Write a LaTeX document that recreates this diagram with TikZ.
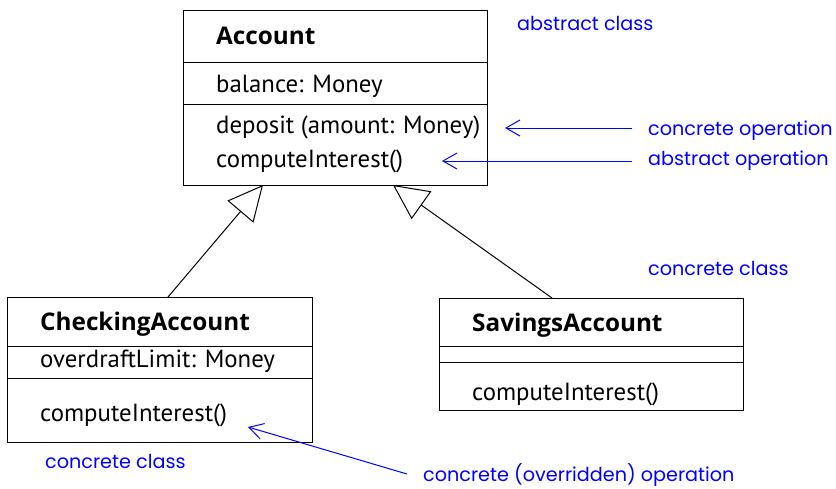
\documentclass[tikz,border=0pt]{standalone}
\usepackage{fontspec}
\setmainfont{PT Sans}
\newfontfamily\titlefont{Open Sans}
\newfontfamily\bluefont{Poppins}
\usetikzlibrary{arrows.meta}
\tikzset{
  classbox/.style={draw=black, line width=1pt, rectangle, inner sep=0pt, anchor=north west},
  divider/.style={draw=black, line width=1pt},
  txt/.style={anchor=base west, inner sep=0pt, font=\fontsize{24.8}{28}\selectfont},
  ttl/.style={anchor=base west, inner sep=0pt, font=\fontsize{24.3}{28}\selectfont\titlefont\bfseries},
  note/.style={anchor=base west, inner sep=0pt, text=blue, font=\fontsize{19.2}{22}\selectfont\bluefont},
  gen/.style={draw=black, line width=1pt, -{Triangle[open, length=35pt, width=34pt, line width=1pt]}},
  pointer/.style={draw=blue, line width=1pt, -{Straight Barb[length=14pt, width=16pt, line width=1pt]}}
}
\begin{document}
\begin{tikzpicture}[x=1pt, y=-1pt]
\useasboundingbox (0,0) rectangle (836,488);
% Account
\node[classbox, minimum width=304pt, minimum height=175pt] (acc) at (183,10) {};
\draw[divider] (183,62) -- (487,62);
\draw[divider] (183,104) -- (487,104);
\node[ttl] (accName) at (216,44) {Account};
\node[txt] (accAttr) at (216,92) {balance: Money};
\node[txt] (accOp1) at (216,133) {deposit (amount: Money)};
\node[txt] (accOp2) at (216,167) {computeInterest()};
% CheckingAccount
\node[classbox, minimum width=305pt, minimum height=145pt] (chk) at (7,297) {};
\draw[divider] (7,346) -- (312,346);
\draw[divider] (7,378) -- (312,378);
\node[ttl] (chkName) at (40,330) {CheckingAccount};
\node[txt] (chkAttr) at (40,367) {overdraftLimit: Money};
\node[txt] (chkOp) at (40,421) {computeInterest()};
% SavingsAccount
\node[classbox, minimum width=304pt, minimum height=112pt] (sav) at (439,298) {};
\draw[divider] (439,346) -- (743,346);
\draw[divider] (439,362) -- (743,362);
\node[ttl] (savName) at (472,331) {SavingsAccount};
\node[txt] (savOp) at (472,400) {computeInterest()};
% generalizations
\coordinate (chkTop) at (168,297);
\coordinate (tip1) at (263,185);
\coordinate (savTop) at (552,298);
\coordinate (tip2) at (393,185);
\draw[gen] (chkTop) -- (tip1);
\draw[gen] (savTop) -- (tip2);
% notes
\node[note] (nAbsClass) at (517,30) {abstract class};
\node[note] (nConcOp) at (648,135) {concrete operation};
\node[note] (nAbsOp) at (648,165) {abstract operation};
\node[note] (nConcClass1) at (648,275) {concrete class};
\node[note] (nConcClass2) at (45,468) {concrete class};
\node[note] (nOverOp) at (423,481) {concrete (overridden) operation};
\coordinate (p1s) at (632,128);
\coordinate (p1e) at (505,128);
\coordinate (p2s) at (632,161);
\coordinate (p2e) at (442,161);
\coordinate (p3s) at (407,474);
\coordinate (p3e) at (248,427);
\draw[pointer] (p1s) -- (p1e);
\draw[pointer] (p2s) -- (p2e);
\draw[pointer] (p3s) -- (p3e);
\end{tikzpicture}
\end{document}
